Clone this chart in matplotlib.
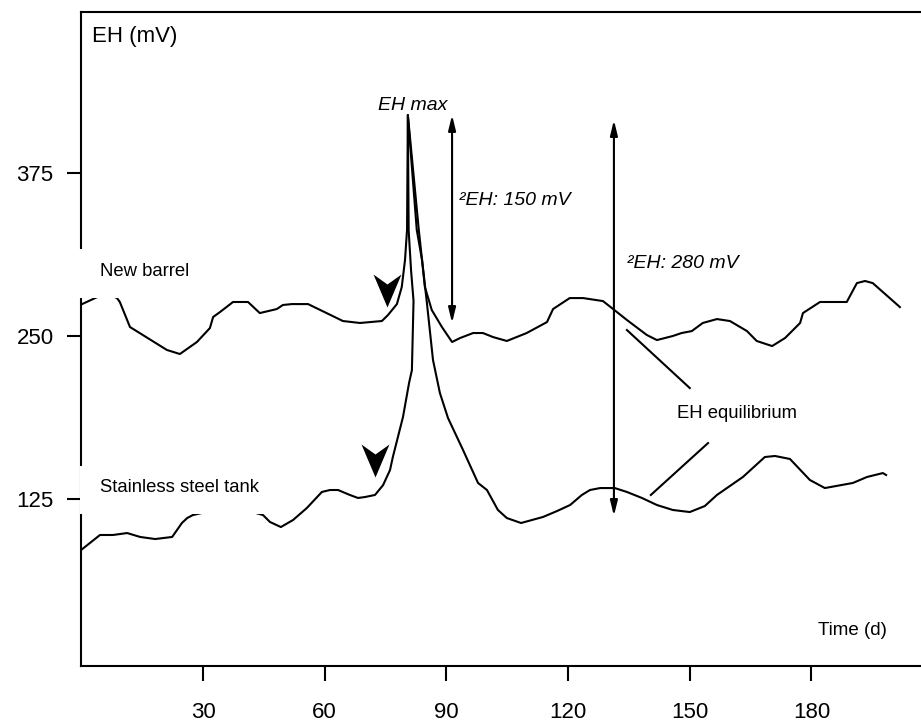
import matplotlib
matplotlib.use("Agg")
import matplotlib.pyplot as plt
from matplotlib.path import Path
from matplotlib.patches import Rectangle

plt.rcParams['font.family'] = ['Liberation Sans', 'DejaVu Sans']

# New barrel, EH (mV) against time (d)
barrel_days = [0.2, 3.4, 6.1, 8.8, 9.5, 12.0, 21.1, 24.3, 28.5, 31.7, 32.5, 34.2, 37.4,
               41.1, 44.0, 48.2, 49.7, 51.9, 55.9, 64.5, 68.7, 74.1, 75.6, 77.8, 79.0,
               79.8, 80.3, 80.5, 82.7, 84.0, 84.7, 86.4, 88.9, 91.4, 93.4, 96.6, 99.0,
               101.5, 104.9, 109.8, 114.8, 116.3, 120.4, 123.7, 128.6, 131.1, 134.5,
               139.4, 141.9, 145.8, 148.0, 150.5, 153.2, 156.7, 159.9, 164.1, 166.5,
               170.3, 173.5, 177.2, 177.9, 182.1, 188.7, 191.2, 193.2, 195.1, 201.8]
barrel_mv = [274.5, 279.1, 283.0, 279.1, 276.1, 256.9, 239.3, 236.2, 245.4, 256.1, 264.6,
             268.4, 276.1, 276.1, 267.6, 270.7, 273.8, 274.5, 274.5, 261.5, 260.0, 261.5,
             266.1, 274.5, 287.6, 308.3, 331.3, 419.5, 331.3, 308.3, 287.6, 269.9, 256.9,
             245.4, 248.5, 252.3, 252.3, 249.2, 246.2, 252.3, 260.7, 270.7, 279.1, 279.1,
             276.8, 270.7, 262.3, 250.8, 246.9, 250.0, 252.3, 253.8, 260.0, 263.0, 261.5,
             253.8, 246.2, 242.3, 248.5, 260.0, 267.6, 276.1, 276.1, 290.6, 292.2, 290.6,
             272.2]

# Stainless steel tank
steel_days = [0.0, 4.6, 7.8, 11.3, 14.5, 18.2, 22.4, 24.8, 26.1, 27.5, 33.0, 40.4, 44.8,
              46.5, 49.2, 52.2, 55.6, 59.3, 61.3, 63.3, 66.2, 68.2, 69.9, 72.4, 74.4,
              76.1, 76.8, 79.3, 80.8, 81.5, 81.9, 81.3, 80.7, 80.5, 83.2, 84.0, 85.2,
              86.7, 88.4, 90.4, 94.1, 97.8, 100.0, 102.7, 104.9, 108.4, 113.8, 117.3,
              120.5, 123.4, 125.4, 127.9, 131.5, 134.5, 138.2, 141.9, 145.8, 150.0,
              153.7, 156.7, 163.1, 168.5, 171.0, 174.7, 179.6, 183.3, 190.2, 193.7,
              197.6, 198.4]
steel_mv = [86.0, 97.4, 97.4, 98.9, 95.9, 94.3, 95.9, 106.6, 110.4, 112.7, 116.6, 116.6,
            112.7, 107.4, 103.5, 108.9, 118.1, 130.4, 131.9, 131.9, 128.1, 125.8, 126.5,
            128.1, 135.7, 147.2, 157.2, 187.9, 214.0, 223.9, 277.0, 300.0, 331.0, 419.5,
            331.3, 308.3, 275.3, 231.6, 206.3, 187.1, 162.6, 137.3, 131.9, 116.6, 110.4,
            106.6, 111.2, 115.8, 120.4, 128.1, 131.9, 133.4, 133.4, 130.4, 125.8, 120.4,
            116.6, 115.0, 119.6, 128.1, 141.9, 157.2, 158.0, 155.7, 139.6, 133.4, 137.3,
            141.9, 144.9, 143.4]

x_ticks = [30, 60, 90, 120, 150, 180]
y_ticks = [125, 250, 375]

# start of the EH rise (arrowhead tips)
onset_days = [75.4, 72.4]
onset_mv = [272.2, 141.9]

# amplitude arrows: day, low, high
amp150 = (91.4, 260.0, 419.5)
amp280 = (131.3, 112.0, 415.6)

fig = plt.figure(figsize=(9.21, 7.23), dpi=100)
ax = fig.add_axes([81.3 / 921, 57 / 723, 1 - 81.3 / 921, 654 / 723])
ax.set_xlim(0, 207)
ax.set_ylim(-3.07, 498.5)

ax.plot(barrel_days, barrel_mv, color='black', lw=1.5, zorder=2)
ax.plot(steel_days, steel_mv, color='black', lw=1.5, zorder=2)

chev = Path([(0, 0), (-14, 33), (0, 23), (14, 33), (0, 0)],
            [Path.MOVETO, Path.LINETO, Path.LINETO, Path.LINETO, Path.CLOSEPOLY])
ax.plot(onset_days, onset_mv, ls='none', marker=chev, markersize=47.5,
        color='black', markeredgewidth=0, zorder=3)

arrow = dict(arrowstyle='<|-|>,head_length=0.9,head_width=0.22', color='black',
             lw=1.5, shrinkA=0, shrinkB=0, mutation_scale=10)
for d, lo, hi in (amp150, amp280):
    ax.annotate('', xy=(d, hi), xytext=(d, lo), arrowprops=arrow)

# pointers to the equilibrium label
ax.plot([134.5, 150.0], [254.6, 210.1], color='black', lw=1.5)
ax.plot([154.5, 140.4], [167.9, 128.1], color='black', lw=1.5)

# white boxes behind the curve labels (they cut the spine and curves)
for (x0, y0, w, h) in [(-1.3, 279.1, 29.3, 37.6), (-0.2, 113.5, 45.5, 36.8)]:
    ax.add_patch(Rectangle((x0, y0), w, h, facecolor='white', edgecolor='none',
                           clip_on=False, zorder=3.5))

ax.text(4.6, 299.8, 'New barrel', fontsize=13.3, va='center', zorder=4)
ax.text(4.6, 134.2, 'Stainless steel tank', fontsize=13.3, va='center', zorder=4)
ax.text(2.7, 480, 'EH (mV)', fontsize=16, va='center')
ax.text(73.2, 427.1, 'EH max', fontsize=14, style='italic', va='center')
ax.text(93.1, 354.3, '\u00b2EH: 150 mV', fontsize=14, style='italic', va='center')
ax.text(134.5, 306.0, '\u00b2EH: 280 mV', fontsize=14, style='italic', va='center')
ax.text(146.8, 190.2, 'EH equilibrium', fontsize=13.3, va='center')
ax.text(181.6, 23.8, 'Time (d)', fontsize=13.5, va='center')

ax.set_xticks(x_ticks)
ax.set_yticks(y_ticks)
ax.tick_params(axis='x', length=10.8, width=1.5, direction='out', pad=15, labelsize=16)
ax.tick_params(axis='y', length=10, width=1.5, direction='out', pad=10, labelsize=16)
ax.spines['right'].set_visible(False)
for s in ('left', 'top', 'bottom'):
    ax.spines[s].set_linewidth(1.5)

fig.savefig('out.png', dpi=100, facecolor='white')
